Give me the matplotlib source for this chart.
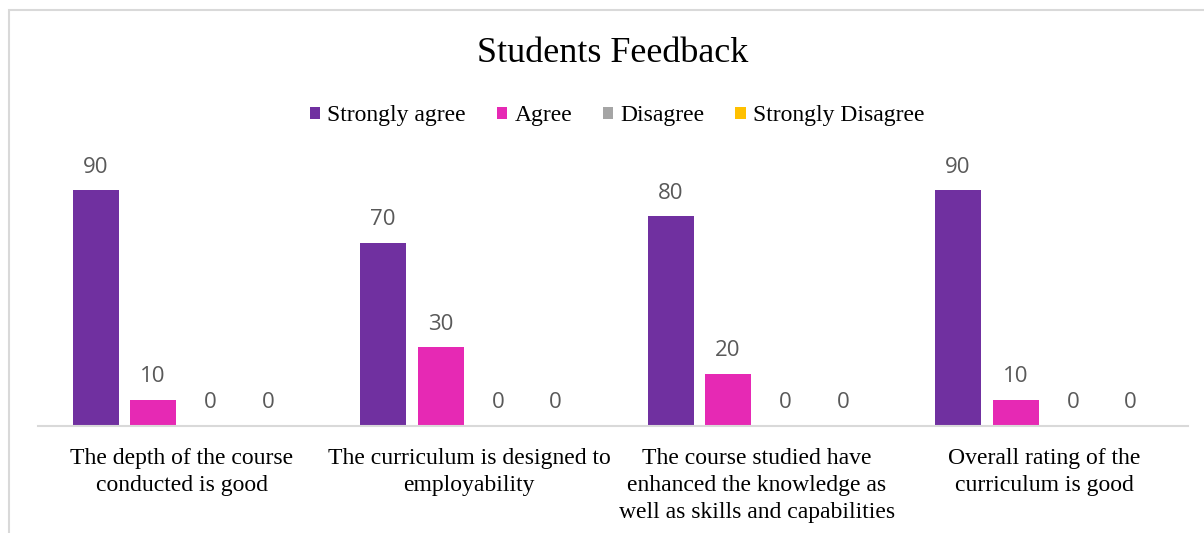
import matplotlib
matplotlib.use("Agg")
import matplotlib.pyplot as plt
from matplotlib.patches import Rectangle
import numpy as np

categories = [
    "The depth of the course\nconducted is good",
    "The curriculum is designed to\nemployability",
    "The course studied have\nenhanced the knowledge as\nwell as skills and capabilities",
    "Overall rating of the\ncurriculum is good",
]
series_names = ["Strongly agree", "Agree", "Disagree", "Strongly Disagree"]
strongly_agree = [90, 70, 80, 90]
agree = [10, 30, 20, 10]
disagree = [0, 0, 0, 0]
strongly_disagree = [0, 0, 0, 0]
series_values = [strongly_agree, agree, disagree, strongly_disagree]
colors = ["#7030A0", "#E629B4", "#A5A5A5", "#FFC000"]

serif = ["Liberation Serif", "DejaVu Serif"]
sans = ["Open Sans", "DejaVu Sans"]

fig = plt.figure(figsize=(12.04, 5.33), dpi=100)
fig.patches.append(Rectangle((9 / 1204, -0.1), 1.2, 1 - 10 / 533 + 0.1,
                             transform=fig.transFigure, fill=False,
                             edgecolor="#D9D9D9", linewidth=1.5))
ax = fig.add_axes([38 / 1204, 1 - 426 / 533, (1188 - 38) / 1204, (426 - 164) / 533])

x = np.arange(len(categories))
width = 0.16
offsets = [-0.3, -0.1, 0.1, 0.3]
for vals, name, col, off in zip(series_values, series_names, colors, offsets):
    bars = ax.bar(x + off, vals, width, color=col, label=name, zorder=2)
    for b, v in zip(bars, vals):
        ax.annotate(f"{v}", (b.get_x() + b.get_width() / 2, v),
                    xytext=(0, 9), textcoords="offset points",
                    ha="center", va="bottom", fontsize=16,
                    color="#595959", family=sans)

ax.set_xlim(-0.5, 3.5)
ax.set_ylim(0, 100)
ax.set_yticks([])
ax.set_xticks(x)
ax.set_xticklabels(categories, family=serif, fontsize=17, linespacing=1.4)
ax.tick_params(axis="x", length=0, pad=15.5)
for s in ["top", "right", "left"]:
    ax.spines[s].set_visible(False)
ax.spines["bottom"].set_color("#D9D9D9")
ax.spines["bottom"].set_linewidth(1.5)

fig.text(613 / 1204, 1 - 54 / 533, "Students Feedback", ha="center", va="center",
         family=serif, fontsize=26)
leg = fig.legend(loc="center", bbox_to_anchor=(617 / 1204, 1 - 116 / 533), ncol=4,
                 frameon=False, prop={"family": serif, "size": 17},
                 handlelength=0.45, handleheight=0.45, handletextpad=0.3,
                 columnspacing=1.3)

fig.savefig("out.png", dpi=100)
